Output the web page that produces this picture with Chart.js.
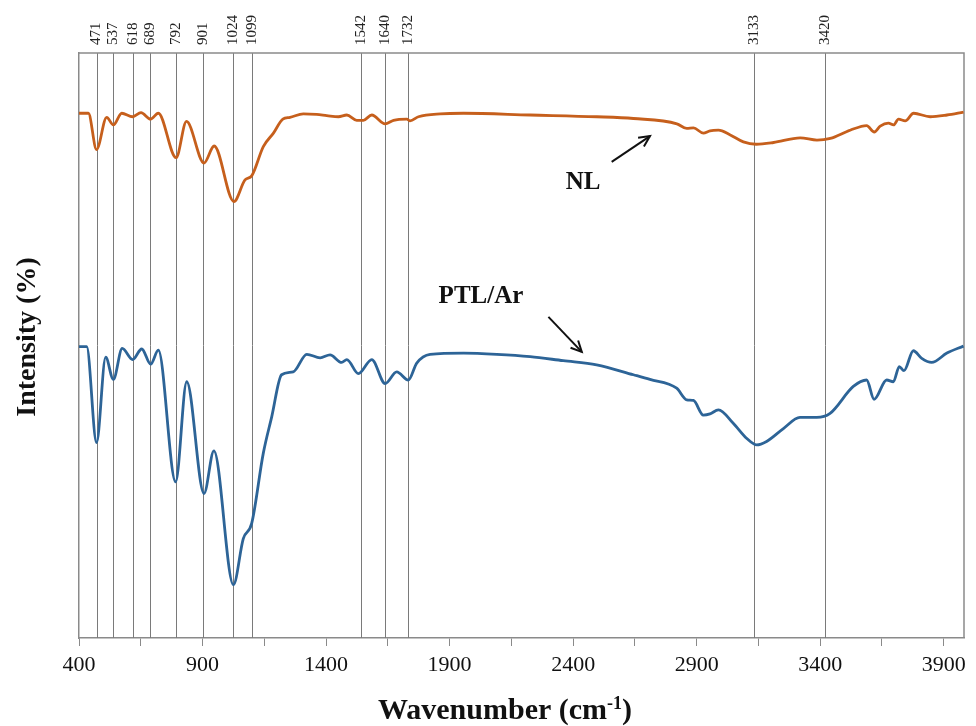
<!DOCTYPE html>
<html>
<head>
<meta charset="utf-8">
<title>FTIR spectra - NL and PTL/Ar</title>
<script src="https://cdn.jsdelivr.net/npm/chart.js@4.4.1/dist/chart.umd.min.js"></script>
<style>
    html, body { margin: 0; padding: 0; background: #ffffff; }
    #ftirChart { display: block; }
</style>
</head>
<body>
<canvas id="ftirChart" width="976" height="726"></canvas>
<script>
// Peak positions marked with vertical lines (cm-1)
const peakPositions = [471, 537, 618, 689, 792, 901, 1024, 1099, 1542, 1640, 1732, 3133, 3420];

// x axis: ticks every 250, labels every 500
const xTickStart = 400;
const xTickStep = 250;
const xLabelStep = 500;

// NL spectrum
const nlWavenumbers = [400, 438, 471, 512, 539, 573, 617, 651, 690, 721, 793, 835, 906, 947, 1027, 1072, 1099, 1146, 1187, 1225,
    1254, 1308, 1362, 1403, 1450, 1484, 1524, 1551, 1585, 1639, 1673, 1727, 1740, 1774, 1862, 1956, 2226, 2496, 2644, 2820,
    2860, 2887, 2927, 2954, 2988, 3036, 3089, 3141, 3211, 3319, 3387, 3441, 3521, 3588, 3619, 3643, 3676, 3697, 3717, 3744,
    3778, 3845, 3913, 3980];
const nlIntensity = [89.7, 89.7, 83.5, 89.0, 87.7, 89.7, 89.1, 89.8, 88.7, 89.7, 82.1, 88.3, 81.2, 84.1, 74.6, 78.3, 79.0, 84.0, 86.3, 88.7,
    89.0, 89.6, 89.5, 89.3, 89.1, 89.4, 88.5, 88.5, 89.4, 87.9, 88.5, 88.7, 88.4, 89.1, 89.6, 89.7, 89.4, 89.1, 88.8, 87.9,
    87.1, 87.2, 86.3, 86.7, 86.8, 86.0, 84.8, 84.4, 84.7, 85.5, 85.1, 85.4, 86.8, 87.6, 86.5, 87.5, 88.0, 87.7, 88.7, 88.4,
    89.7, 89.1, 89.4, 89.9];

// PTL/Ar spectrum
const ptlWavenumbers = [400, 431, 471, 508, 539, 575, 617, 654, 690, 721, 791, 836, 906, 946, 1025, 1065, 1099, 1146, 1180, 1220,
    1267, 1322, 1376, 1416, 1463, 1484, 1531, 1585, 1639, 1686, 1733, 1767, 1821, 1956, 2091, 2226, 2360, 2495, 2644, 2711,
    2819, 2860, 2887, 2927, 2954, 2988, 3048, 3103, 3143, 3183, 3251, 3318, 3386, 3440, 3534, 3588, 3618, 3669, 3696, 3720,
    3739, 3777, 3811, 3851, 3913, 3980];
const ptlIntensity = [49.8, 49.8, 33.4, 48.0, 44.2, 49.5, 47.6, 49.4, 46.8, 49.2, 26.7, 43.8, 24.7, 32.0, 9.1, 17.0, 19.6, 31.6, 37.8, 45.0,
    45.5, 48.5, 47.9, 48.4, 47.1, 47.6, 45.2, 47.6, 43.5, 45.5, 44.1, 47.0, 48.5, 48.7, 48.5, 48.1, 47.4, 46.7, 45.0, 44.2,
    42.7, 40.7, 40.6, 38.1, 38.3, 39.0, 36.7, 34.1, 33.0, 33.6, 35.8, 37.7, 37.7, 38.4, 43.0, 44.1, 40.8, 44.1, 43.8, 46.4,
    45.7, 49.1, 47.8, 47.1, 48.7, 49.9];

// Text labels with arrows (label position, arrow tail, arrow head) in data units
const seriesNotes = [
    { text: 'NL', at: [2440, 77.8], from: [2556, 81.4], to: [2711, 85.8] },
    { text: 'PTL/Ar', at: [2027, 58.3], from: [2300, 54.9], to: [2435, 48.9] }
];

const serif = '"Liberation Serif", "Times New Roman", serif';
const frameColor = '#8a8a8a';

function toPoints(xs, ys) {
    return xs.map((x, i) => ({ x: x, y: ys[i] }));
}

// x title with a real superscript: "Wavenumber (cm" + "-1" + ")"
function drawXTitle(ctx, cx, cy) {
    const big = 'bold 30px ' + serif;
    const small = 'bold 18px ' + serif;
    const parts = [['Wavenumber (cm', big, 0], ['-1', small, -10], [')', big, 0]];
    let total = 0;
    parts.forEach(p => { ctx.font = p[1]; total += ctx.measureText(p[0]).width; });
    let x = cx - total / 2;
    ctx.textAlign = 'left';
    ctx.textBaseline = 'alphabetic';
    parts.forEach(p => {
        ctx.font = p[1];
        ctx.fillText(p[0], x, cy + p[2]);
        x += ctx.measureText(p[0]).width;
    });
}

// Peak lines, labels above the plot, top/right frame, axis titles
const peakLinesPlugin = {
    id: 'peakLines',
    beforeDatasetsDraw(chart) {
        const { ctx, chartArea, scales } = chart;
        ctx.save();
        ctx.strokeStyle = '#7a7a7a';
        ctx.lineWidth = 1;
        peakPositions.forEach(p => {
            const x = Math.round(scales.x.getPixelForValue(p)) + 0.5;
            ctx.beginPath();
            ctx.moveTo(x, chartArea.top);
            ctx.lineTo(x, chartArea.bottom);
            ctx.stroke();
        });

        // top and right side of the box
        ctx.strokeStyle = frameColor;
        ctx.lineWidth = 1.5;
        ctx.beginPath();
        ctx.moveTo(chartArea.left, chartArea.top);
        ctx.lineTo(chartArea.right, chartArea.top);
        ctx.lineTo(chartArea.right, chartArea.bottom);
        ctx.stroke();

        ctx.fillStyle = '#222';
        ctx.font = '15px ' + serif;
        ctx.textAlign = 'left';
        ctx.textBaseline = 'middle';
        peakPositions.forEach(p => {
            const x = scales.x.getPixelForValue(p);
            ctx.save();
            ctx.translate(x, chartArea.top - 8);
            ctx.rotate(-Math.PI / 2);
            ctx.fillText(String(p), 0, 0);
            ctx.restore();
        });

        // axis titles
        ctx.fillStyle = '#111';
        drawXTitle(ctx, 505, 719);
        ctx.save();
        ctx.translate(28, 337);
        ctx.rotate(-Math.PI / 2);
        ctx.textAlign = 'center';
        ctx.textBaseline = 'middle';
        ctx.font = 'bold 28px ' + serif;
        ctx.fillText('Intensity (%)', 0, 0);
        ctx.restore();
        ctx.restore();
    },
    afterDatasetsDraw(chart) {
        const { ctx, scales } = chart;
        ctx.save();
        seriesNotes.forEach(note => {
            const tx = scales.x.getPixelForValue(note.at[0]);
            const ty = scales.y.getPixelForValue(note.at[1]);
            ctx.fillStyle = '#111';
            ctx.font = 'bold 25px ' + serif;
            ctx.textAlign = 'center';
            ctx.textBaseline = 'middle';
            ctx.fillText(note.text, tx, ty);

            const x1 = scales.x.getPixelForValue(note.from[0]);
            const y1 = scales.y.getPixelForValue(note.from[1]);
            const x2 = scales.x.getPixelForValue(note.to[0]);
            const y2 = scales.y.getPixelForValue(note.to[1]);
            ctx.strokeStyle = '#111';
            ctx.lineWidth = 2;
            ctx.beginPath();
            ctx.moveTo(x1, y1);
            ctx.lineTo(x2, y2);
            ctx.stroke();
            // arrow head
            const ang = Math.atan2(y2 - y1, x2 - x1);
            const len = 12;
            ctx.beginPath();
            ctx.moveTo(x2 - len * Math.cos(ang - 0.45), y2 - len * Math.sin(ang - 0.45));
            ctx.lineTo(x2, y2);
            ctx.lineTo(x2 - len * Math.cos(ang + 0.45), y2 - len * Math.sin(ang + 0.45));
            ctx.stroke();
        });
        ctx.restore();
    }
};

new Chart(document.getElementById('ftirChart'), {
    type: 'line',
    data: {
        datasets: [
            {
                label: 'NL',
                data: toPoints(nlWavenumbers, nlIntensity),
                borderColor: '#c65f1c',
                borderWidth: 2.8,
                pointRadius: 0,
                cubicInterpolationMode: 'monotone',
                fill: false
            },
            {
                label: 'PTL/Ar',
                data: toPoints(ptlWavenumbers, ptlIntensity),
                borderColor: '#2d6497',
                borderWidth: 2.8,
                pointRadius: 0,
                cubicInterpolationMode: 'monotone',
                fill: false
            }
        ]
    },
    options: {
        responsive: false,
        animation: false,
        devicePixelRatio: 1,
        layout: {
            padding: { top: 53, right: 12, left: 0, bottom: 0 }
        },
        plugins: {
            legend: { display: false },
            tooltip: { enabled: false }
        },
        scales: {
            x: {
                type: 'linear',
                min: 400,
                max: 3982,
                afterBuildTicks: function(scale) {
                    const ticks = [];
                    for (let v = xTickStart; v <= scale.max; v += xTickStep) {
                        ticks.push({ value: v });
                    }
                    scale.ticks = ticks;
                },
                afterFit: function(scale) {
                    scale.height = 88;
                },
                ticks: {
                    autoSkip: false,
                    maxRotation: 0,
                    padding: 6,
                    color: '#111',
                    font: { family: serif, size: 22 },
                    callback: function(value) {
                        return (value - xTickStart) % xLabelStep === 0 ? value : '';
                    }
                },
                grid: {
                    drawOnChartArea: false,
                    drawTicks: true,
                    tickLength: 8,
                    color: frameColor
                },
                border: { color: frameColor, width: 1.5 },
                title: { display: false }
            },
            y: {
                min: 0,
                max: 100,
                afterFit: function(scale) {
                    scale.width = 79;
                },
                ticks: { display: false },
                grid: { display: false },
                border: { color: frameColor, width: 1.5 },
                title: { display: false }
            }
        }
    },
    plugins: [peakLinesPlugin]
});
</script>
</body>
</html>
